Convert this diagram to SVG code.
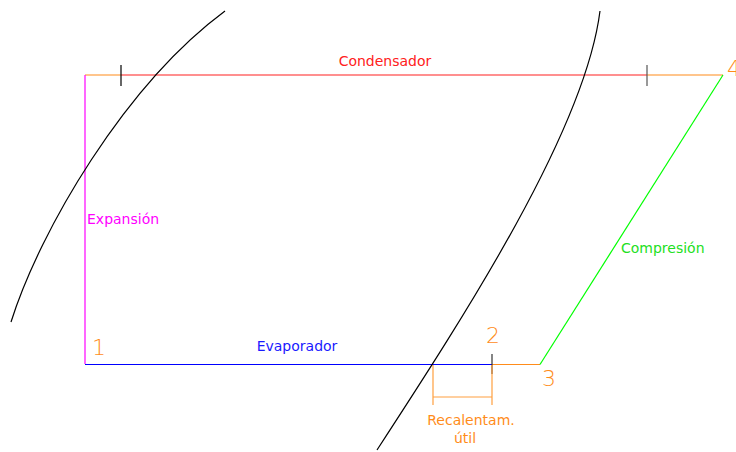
<svg xmlns="http://www.w3.org/2000/svg" width="736" height="452" viewBox="0 0 736 452">
<style>
.t{font-family:"DejaVu Sans","Liberation Sans",sans-serif;font-size:14px}
.n{font-family:"DejaVu Sans","Liberation Sans",sans-serif;font-size:22px;font-weight:200;fill:#ff8c1a}
.ln{fill:none;stroke-width:1.2}
</style>
<rect width="736" height="452" fill="#ffffff"/>
<g id="connectors">
<path class="ln" d="M85,75 H121" stroke="#ff8c1a"/>
<path class="ln" d="M121,75 H647" stroke="#ff2020"/>
<path class="ln" d="M647,75 H723" stroke="#ff8c1a"/>
<path class="ln" d="M85,75 V364" stroke="#ff00ff"/>
<path class="ln" d="M85,364.5 H492" stroke="#0000ff"/>
<path class="ln" d="M492,364.5 H540" stroke="#ff8c1a"/>
<path class="ln" d="M540,364.5 L723,75" stroke="#00ff00"/>
<path class="ln" d="M121,65 V86" stroke="#000"/>
<path class="ln" d="M647,65 V86" stroke="#555"/>
<path class="ln" d="M492,354 V374" stroke="#333"/>
<path class="ln" d="M433,365 V405 M492,365 V405 M433,397 H492" stroke="#ffa040"/>
<path class="ln" d="M11,322 C40,230 125,85 225,11" stroke="#000"/>
<path class="ln" d="M377,450 C465,315 585,130 600,11" stroke="#000"/>
</g>
<g id="condensador"><text class="t" x="385" y="66" text-anchor="middle" fill="#ff2020">Condensador</text></g>
<g id="expansion"><text class="t" x="87" y="224" fill="#ff00ff">Expansión</text></g>
<g id="evaporador"><text class="t" x="297" y="351" text-anchor="middle" fill="#1a1aff">Evaporador</text></g>
<g id="compresion"><text class="t" x="621" y="253" fill="#22e022">Compresión</text></g>
<g id="recalentam"><text class="t" x="471" y="425" text-anchor="middle" fill="#ff8c1a">Recalentam.</text><text class="t" x="465" y="443" text-anchor="middle" fill="#ff8c1a">útil</text></g>
<g id="p1"><text class="n" x="92" y="355">1</text></g>
<g id="p2"><text class="n" x="486" y="343">2</text></g>
<g id="p3"><text class="n" x="542" y="386">3</text></g>
<g id="p4"><text class="n" x="727" y="76">4</text></g>
</svg>
